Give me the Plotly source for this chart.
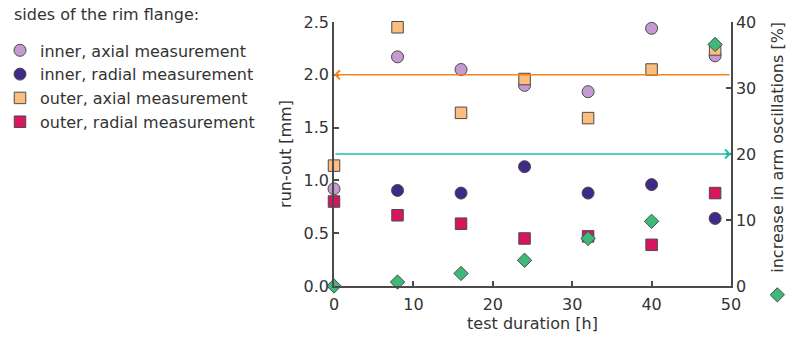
import plotly.graph_objects as go

# Test duration in hours
hours = [0, 8, 16, 24, 32, 40, 48]
radial_inner_hours = [8, 16, 24, 32, 40, 48]

# Run-out of the rim flange [mm]
inner_axial = [0.92, 2.17, 2.05, 1.90, 1.84, 2.44, 2.18]
inner_radial = [0.905, 0.88, 1.13, 0.88, 0.96, 0.64]
outer_axial = [1.14, 2.45, 1.64, 1.96, 1.59, 2.05, 2.24]
outer_radial = [0.80, 0.67, 0.59, 0.45, 0.47, 0.39, 0.88]

# Increase in arm oscillations [%]
oscillation_increase = [0, 0.6, 1.9, 3.9, 7.2, 9.8, 36.6]

runout_limit = 2.0       # mm, left axis
oscillation_limit = 20   # %, right axis

FONT = "DejaVu Sans, Arial, sans-serif"
FS = 16
TEXT = "#333333"
AXIS = "#4a4a4a"
EDGE = dict(color="#4a4a4a", width=1)

fig = go.Figure()

fig.add_trace(go.Scatter(
    x=hours, y=inner_axial, mode="markers", name="inner, axial measurement",
    marker=dict(symbol="circle", size=12, color="#c49ad0", line=EDGE),
    cliponaxis=False, legend="legend"))
fig.add_trace(go.Scatter(
    x=radial_inner_hours, y=inner_radial, mode="markers", name="inner, radial measurement",
    marker=dict(symbol="circle", size=12, color="#402a88", line=EDGE),
    cliponaxis=False, legend="legend"))
fig.add_trace(go.Scatter(
    x=hours, y=outer_axial, mode="markers", name="outer, axial measurement",
    marker=dict(symbol="square", size=11.5, color="#fdbd7e", line=EDGE),
    cliponaxis=False, legend="legend"))
fig.add_trace(go.Scatter(
    x=hours, y=outer_radial, mode="markers", name="outer, radial measurement",
    marker=dict(symbol="square", size=11.5, color="#d8155f", line=EDGE),
    cliponaxis=False, legend="legend"))
fig.add_trace(go.Scatter(
    x=hours, y=oscillation_increase, mode="markers", name=" ", yaxis="y2",
    marker=dict(symbol="diamond", size=11, color="#3db97a", line=EDGE),
    cliponaxis=False, legend="legend2"))

# Limit lines with arrows pointing to the axis they refer to
fig.add_annotation(x=0, y=runout_limit, xref="x", yref="y",
                   ax=50, ay=runout_limit, axref="x", ayref="y",
                   text="", showarrow=True, arrowhead=4, arrowsize=1.1,
                   arrowwidth=1.6, arrowcolor="#f7841e")
fig.add_annotation(x=50, y=oscillation_limit, xref="x", yref="y2",
                   ax=0, ay=oscillation_limit, axref="x", ayref="y2",
                   text="", showarrow=True, arrowhead=4, arrowsize=1.1,
                   arrowwidth=1.6, arrowcolor="#1fbfa9")

# Heading of the legend
fig.add_annotation(text="sides of the rim flange:", xref="paper", yref="paper",
                   x=-0.811, y=1.027, xanchor="left", yanchor="middle",
                   showarrow=False, font=dict(family=FONT, size=FS, color=TEXT))

# Title of the right-hand axis
fig.add_annotation(text="increase in arm oscillations [%]", xref="paper", yref="paper",
                   x=1.118, y=0.527, xanchor="center", yanchor="middle",
                   textangle=-90, showarrow=False,
                   font=dict(family=FONT, size=FS, color=TEXT))

axis_common = dict(showgrid=False, zeroline=False, showline=True,
                   linecolor=AXIS, linewidth=1.5, ticks="inside",
                   ticklen=5, tickwidth=1.5, tickcolor=AXIS,
                   tickfont=dict(family=FONT, size=FS, color=TEXT))

fig.update_layout(
    width=793, height=341,
    margin=dict(l=334, r=62, t=22, b=55, autoexpand=False),
    plot_bgcolor="white", paper_bgcolor="white",
    font=dict(family=FONT, size=FS, color=TEXT),
    xaxis=dict(range=[0, 50], tickvals=[0, 10, 20, 30, 40, 50],
               ticklabelstandoff=3,
               title=dict(text="test duration [h]", standoff=4,
                          font=dict(family=FONT, size=FS, color=TEXT)),
               **axis_common),
    yaxis=dict(range=[0, 2.5], tickvals=[0, 0.5, 1.0, 1.5, 2.0, 2.5],
               tickformat=".1f",
               title=dict(text="run-out [mm]", standoff=8,
                          font=dict(family=FONT, size=FS, color=TEXT)),
               **axis_common),
    yaxis2=dict(range=[0, 40], tickvals=[0, 10, 20, 30, 40],
                overlaying="y", side="right", **axis_common),
    legend=dict(
        xref="container", yref="container", x=0, y=0.902,
        xanchor="left", yanchor="top",
        font=dict(family=FONT, size=FS, color=TEXT),
        bgcolor="rgba(0,0,0,0)", borderwidth=0),
    legend2=dict(
        xref="container", yref="container", x=0.955, y=0.185,
        xanchor="left", yanchor="top",
        font=dict(family=FONT, size=FS, color=TEXT),
        bgcolor="rgba(0,0,0,0)", borderwidth=0),
)

fig.write_html("out.html")
